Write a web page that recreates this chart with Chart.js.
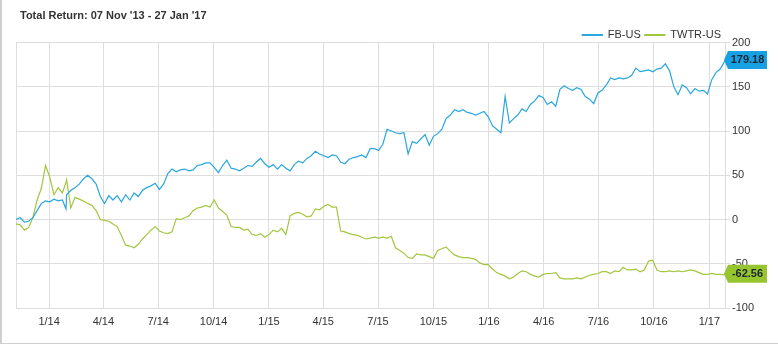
<!DOCTYPE html>
<html>
<head>
<meta charset="utf-8">
<script src="https://cdn.jsdelivr.net/npm/chart.js@4"></script>
<style>
html,body{margin:0;padding:0;background:#fff;}
#wrap{position:relative;width:778px;height:344px;overflow:hidden;}
#frame{position:absolute;left:0;top:0;width:778px;height:344px;box-sizing:border-box;border-left:2px solid #cfcfcf;border-bottom:1px solid #cfcfcf;pointer-events:none;}
canvas{display:block;}
</style>
</head>
<body>
<div id="wrap"><canvas id="c" width="778" height="344"></canvas><div id="frame"></div></div>
<script>
const titleText = "Total Return: 07 Nov '13 - 27 Jan '17";
const seriesNames = ["FB-US", "TWTR-US"];

const dates = [
"2013-11-07","2013-11-14","2013-11-21","2013-11-28","2013-12-05","2013-12-12","2013-12-19","2013-12-26",
"2014-01-02","2014-01-09","2014-01-16","2014-01-23","2014-01-29","2014-01-30",
"2014-02-06","2014-02-13","2014-02-20","2014-02-27",
"2014-03-06","2014-03-13","2014-03-20","2014-03-27",
"2014-04-03","2014-04-10","2014-04-17","2014-04-24",
"2014-05-01","2014-05-08","2014-05-15","2014-05-22","2014-05-29",
"2014-06-05","2014-06-12","2014-06-19","2014-06-26",
"2014-07-03","2014-07-10","2014-07-17","2014-07-24","2014-07-31",
"2014-08-07","2014-08-14","2014-08-21","2014-08-28",
"2014-09-04","2014-09-11","2014-09-18","2014-09-25",
"2014-10-02","2014-10-09","2014-10-16","2014-10-23","2014-10-30",
"2014-11-06","2014-11-13","2014-11-20","2014-11-27",
"2014-12-04","2014-12-11","2014-12-18","2014-12-25",
"2015-01-01","2015-01-08","2015-01-15","2015-01-22","2015-01-29",
"2015-02-05","2015-02-12","2015-02-19","2015-02-26",
"2015-03-05","2015-03-12","2015-03-19","2015-03-26",
"2015-04-02","2015-04-09","2015-04-16","2015-04-23","2015-04-30",
"2015-05-07","2015-05-14","2015-05-21","2015-05-28",
"2015-06-04","2015-06-11","2015-06-18","2015-06-25",
"2015-07-02","2015-07-09","2015-07-16","2015-07-23","2015-07-30",
"2015-08-06","2015-08-13","2015-08-20","2015-08-27",
"2015-09-03","2015-09-10","2015-09-17","2015-09-24",
"2015-10-01","2015-10-08","2015-10-15","2015-10-22","2015-10-29",
"2015-11-05","2015-11-12","2015-11-19","2015-11-26",
"2015-12-03","2015-12-10","2015-12-17","2015-12-24","2015-12-31",
"2016-01-07","2016-01-14","2016-01-21","2016-01-28",
"2016-02-04","2016-02-11","2016-02-18","2016-02-25",
"2016-03-03","2016-03-10","2016-03-17","2016-03-24","2016-03-31",
"2016-04-07","2016-04-14","2016-04-21","2016-04-28",
"2016-05-05","2016-05-12","2016-05-19","2016-05-26",
"2016-06-02","2016-06-09","2016-06-16","2016-06-23","2016-06-30",
"2016-07-07","2016-07-14","2016-07-21","2016-07-28",
"2016-08-04","2016-08-11","2016-08-18","2016-08-25",
"2016-09-01","2016-09-08","2016-09-15","2016-09-22","2016-09-29",
"2016-10-06","2016-10-13","2016-10-20","2016-10-27",
"2016-11-03","2016-11-10","2016-11-17","2016-11-24",
"2016-12-01","2016-12-08","2016-12-15","2016-12-22","2016-12-29",
"2017-01-05","2017-01-12","2017-01-19","2017-01-27"
];

const fbUS = [
0,2,-3,-2,2,10,18,21,
20,23,21,22,12,28,
33,36,40,46,
50,46,40,26,
18,27,22,27,
20,28,22,30,26,
33,36,38,41,
34,40,52,57,54,
56,57,55,56,
61,62,64,64,
59,53,61,67,58,
57,55,58,61,
60,65,69,63,
59,62,57,62,58,
55,62,66,64,
69,72,77,74,
72,70,73,72,65,
63,68,70,71,
73,70,80,80,
78,85,102,100,98,
97,98,74,88,
86,91,96,84,
94,97,102,114,118,
124,122,124,121,
120,118,120,122,116,
106,102,98,139,
109,114,118,125,
122,130,134,140,138,
130,133,128,147,
151,148,146,149,
147,139,136,131,143,
146,152,160,158,
160,159,160,163,
171,167,168,169,167,
170,171,176,168,
150,141,152,149,
142,148,145,146,142,
158,166,170,179.18
];

const twtrUS = [
-5,-6,-12,-9,2,22,35,61,
48,28,36,30,42,45,
13,25,23,21,
18,16,10,0,
-1,-2,-5,-8,
-18,-29,-30,-32,-28,
-22,-17,-12,-8,
-13,-15,-16,-14,1,
0,2,4,10,
13,14,16,14,
22,13,9,5,-8,
-9,-9,-12,-11,
-17,-18,-16,-20,
-17,-12,-14,-10,-17,
4,7,8,6,
3,4,12,11,
15,17,14,14,-13,
-14,-16,-17,-18,
-20,-22,-21,-20,
-21,-20,-21,-19,-32,
-35,-38,-43,-44,
-39,-40,-40,-42,
-44,-35,-33,-31,-36,
-40,-42,-43,-43,
-44,-45,-49,-51,-51,
-56,-60,-62,-64,
-67,-65,-61,-58,
-59,-62,-64,-65,-62,
-61,-61,-60,-66,
-67,-67,-67,-66,
-67,-65,-63,-62,-61,
-59,-59,-61,-58,
-59,-54,-57,-57,
-56,-59,-57,-47,-46,
-57,-59,-59,-58,
-59,-58,-59,-58,
-57,-58,-60,-62,-62,
-61,-62,-62,-62.56
];

const tickDates = ["2014-01-01","2014-04-01","2014-07-01","2014-10-01","2015-01-01","2015-04-01","2015-07-01","2015-10-01","2016-01-01","2016-04-01","2016-07-01","2016-10-01","2017-01-01"];
const tickLabels = ["1/14","4/14","7/14","10/14","1/15","4/15","7/15","10/15","1/16","4/16","7/16","10/16","1/17"];
const yMin = -100, yMax = 200, yStep = 50;

const lineColors = ["#2aa7de", "#a3c63f"];
const badgeColors = ["#17a1e2", "#97c530"];

const DAY = 86400000;
const t0 = Date.parse(dates[0]);
const dayOf = d => (Date.parse(d) - t0) / DAY;
const toPoints = arr => arr.map((v, i) => ({x: dayOf(dates[i]), y: v}));

const FONT = "Arial, 'Liberation Sans', sans-serif";
const GRID = "#dedede";
const LEGEND_TRIM = 8;
const TITLE_SHIFT = 4;

const layoutTweak = {
  id: 'layoutTweak',
  beforeLayout(chart) {
    const lg = chart.legend;
    if (lg && !lg.__trimmed) {
      const fit = lg.fit;
      lg.fit = function () { fit.call(this); this.height = Math.max(0, this.height - LEGEND_TRIM); };
      lg.__trimmed = true;
    }
  },
  afterLayout(chart) {
    if (chart.titleBlock) chart.titleBlock.left += TITLE_SHIFT;
  }
};

const badgePlugin = {
  id: 'lastBadge',
  afterDatasetsDraw(chart) {
    const {ctx, chartArea, scales} = chart;
    const y = scales.y;
    chart.data.datasets.forEach((ds, i) => {
      const last = ds.data[ds.data.length - 1].y;
      const cy = y.getPixelForValue(last) - 1;
      const x0 = chartArea.right - 1, w = 43, h = 18, a = 4;
      ctx.save();
      ctx.fillStyle = badgeColors[i];
      ctx.beginPath();
      ctx.moveTo(x0, cy);
      ctx.lineTo(x0 + a, cy - h / 2);
      ctx.lineTo(x0 + w, cy - h / 2);
      ctx.lineTo(x0 + w, cy + h / 2);
      ctx.lineTo(x0 + a, cy + h / 2);
      ctx.closePath();
      ctx.fill();
      ctx.fillStyle = '#1d2633';
      ctx.font = 'bold 11px ' + FONT;
      ctx.textAlign = 'center';
      ctx.textBaseline = 'middle';
      ctx.fillText(last.toFixed(2), x0 + a + (w - a) / 2, cy + 0.5);
      ctx.restore();
    });
  }
};

new Chart(document.getElementById('c'), {
  type: 'line',
  data: {
    datasets: [
      {label: seriesNames[0], data: toPoints(fbUS), borderColor: lineColors[0], backgroundColor: lineColors[0], borderWidth: 1.2, pointRadius: 0, tension: 0, fill: false},
      {label: seriesNames[1], data: toPoints(twtrUS), borderColor: lineColors[1], backgroundColor: lineColors[1], borderWidth: 1.2, pointRadius: 0, tension: 0, fill: false}
    ]
  },
  options: {
    responsive: false,
    devicePixelRatio: 1,
    animation: false,
    events: [],
    layout: {padding: {left: 16, right: 0, top: 0, bottom: 0}},
    plugins: {
      title: {
        display: true, text: titleText, align: 'start', color: '#333',
        font: {family: FONT, size: 11, weight: 'bold'},
        padding: {top: 9, bottom: 3.3}
      },
      legend: {
        display: true, position: 'top', align: 'end', fullSize: false,
        labels: {boxWidth: 20, boxHeight: 1, padding: 4, color: '#333', font: {family: FONT, size: 11}}
      },
      tooltip: {enabled: false}
    },
    scales: {
      x: {
        type: 'linear',
        min: 0,
        max: dayOf(dates[dates.length - 1]),
        afterBuildTicks: s => { s.ticks = [0].concat(tickDates.map(dayOf)).map(v => ({value: v})); },
        afterFit: s => { s.height = 36; },
        grid: {color: GRID, drawTicks: false, lineWidth: 1},
        border: {display: true, color: GRID},
        ticks: {
          autoSkip: false, maxRotation: 0, padding: 7, color: '#333',
          font: {family: FONT, size: 11},
          callback: (v, i) => (i === 0 ? '' : tickLabels[i - 1])
        }
      },
      y: {
        position: 'right',
        min: yMin, max: yMax,
        afterFit: s => { s.width = 53; },
        grid: {color: GRID, tickLength: 5, lineWidth: 1},
        border: {display: true, color: GRID},
        ticks: {stepSize: yStep, padding: 2, color: '#333', font: {family: FONT, size: 11}}
      }
    }
  },
  plugins: [layoutTweak, badgePlugin]
});
</script>
</body>
</html>
